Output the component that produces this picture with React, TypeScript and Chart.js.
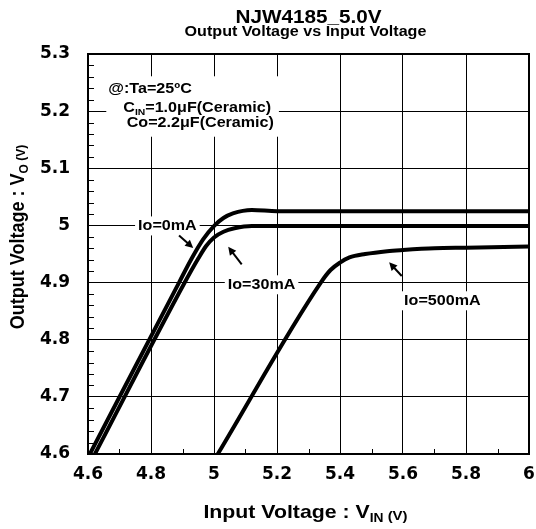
import React, { useEffect, useRef } from "react";
import { Chart, registerables } from "chart.js";

Chart.register(...registerables);

// ---- data ----
const xTicks = [4.6, 4.8, 5, 5.2, 5.4, 5.6, 5.8, 6];
const yTicks = [4.6, 4.7, 4.8, 4.9, 5, 5.1, 5.2, 5.3];

const io0X = [4.606, 4.889, 4.93, 4.966, 5.002, 5.03, 5.06, 5.12, 5.2, 6.0];
const io0Y = [4.6, 4.9, 4.943, 4.976, 5.0, 5.013, 5.021, 5.027, 5.025, 5.025];

const io30X = [4.622, 4.907, 4.95, 4.975, 5.0, 5.03, 5.065, 5.12, 5.2, 6.0];
const io30Y = [4.6, 4.9, 4.942, 4.964, 4.979, 4.989, 4.995, 4.999, 4.999, 4.999];

const io500X = [5.012, 5.339, 5.37, 5.4, 5.43, 5.48, 5.55, 5.6, 5.7, 5.8, 6.0];
const io500Y = [4.6, 4.9, 4.922, 4.935, 4.944, 4.95, 4.955, 4.957, 4.96, 4.961, 4.963];

// annotation texts / anchors (data units)
const loadLabels = ["Io=0mA", "Io=30mA", "Io=500mA"];
const loadLabelX = [4.852, 5.151, 5.725];
const loadLabelY = [5.0, 4.897, 4.869];
const arrowFromX = [4.889, 5.088, 5.596];
const arrowFromY = [4.9825, 4.932, 4.9115];
const arrowToX = [4.934, 5.045, 5.556];
const arrowToY = [4.9605, 4.9625, 4.9355];

const condX = [4.6644, 4.712, 4.7229];
const condY = [5.24, 5.2078, 5.1815];

const titleText = "NJW4185_5.0V";
const subtitleText = "Output Voltage vs Input Voltage";

const FONT = '"Liberation Sans", Arial, Helvetica, sans-serif';
const TICK_FONT = '"DejaVu Sans", "Liberation Sans", sans-serif';
const SX = 1.15;

type Run = { t: string; size: number; dy?: number };

function runsWidth(ctx: CanvasRenderingContext2D, runs: Run[], sx: number) {
  let w = 0;
  for (const r of runs) {
    ctx.font = `bold ${r.size}px ${FONT}`;
    w += ctx.measureText(r.t).width * sx;
  }
  return w;
}

function drawRuns(
  ctx: CanvasRenderingContext2D,
  runs: Run[],
  x: number,
  baseline: number,
  align: "left" | "center" | "right",
  sx: number
) {
  const w = runsWidth(ctx, runs, sx);
  let cx = align === "center" ? x - w / 2 : align === "right" ? x - w : x;
  const start = cx;
  for (const r of runs) {
    ctx.save();
    ctx.font = `bold ${r.size}px ${FONT}`;
    ctx.textAlign = "left";
    ctx.textBaseline = "alphabetic";
    ctx.fillStyle = "#000";
    const mw = ctx.measureText(r.t).width;
    ctx.translate(cx, baseline + (r.dy || 0));
    ctx.scale(sx, 1);
    ctx.fillText(r.t, 0, 0);
    ctx.restore();
    cx += mw * sx;
  }
  return { left: start, right: start + w };
}

function arrow(ctx: CanvasRenderingContext2D, x1: number, y1: number, x2: number, y2: number) {
  const ang = Math.atan2(y2 - y1, x2 - x1);
  const hl = 8;
  const hw = 4;
  ctx.save();
  ctx.strokeStyle = "#000";
  ctx.fillStyle = "#000";
  ctx.lineWidth = 2;
  ctx.beginPath();
  ctx.moveTo(x1, y1);
  ctx.lineTo(x2 - Math.cos(ang) * hl * 0.8, y2 - Math.sin(ang) * hl * 0.8);
  ctx.stroke();
  ctx.beginPath();
  ctx.moveTo(x2, y2);
  ctx.lineTo(x2 - Math.cos(ang) * hl - Math.sin(ang) * hw, y2 - Math.sin(ang) * hl + Math.cos(ang) * hw);
  ctx.lineTo(x2 - Math.cos(ang) * hl + Math.sin(ang) * hw, y2 - Math.sin(ang) * hl - Math.cos(ang) * hw);
  ctx.closePath();
  ctx.fill();
  ctx.restore();
}

const annotPlugin = {
  id: "annot",
  beforeDatasetsDraw(chart: any) {
    const ctx: CanvasRenderingContext2D = chart.ctx;
    const xs = chart.scales.x;
    const ys = chart.scales.y;
    const area = chart.chartArea;

    // minor ticks
    ctx.save();
    ctx.strokeStyle = "#000";
    ctx.lineWidth = 1;
    for (let i = 0; i <= 35; i++) {
      if (i % 5 === 0) continue;
      const v = 4.6 + i * 0.02;
      const py = Math.round(ys.getPixelForValue(v)) + 0.5;
      ctx.beginPath();
      ctx.moveTo(area.left, py);
      ctx.lineTo(area.left + 6, py);
      ctx.stroke();
    }
    for (let i = 0; i < xTicks.length - 1; i++) {
      const v = (xTicks[i] + xTicks[i + 1]) / 2;
      const px = Math.round(xs.getPixelForValue(v)) + 0.5;
      ctx.beginPath();
      ctx.moveTo(px, area.bottom);
      ctx.lineTo(px, area.bottom - 5);
      ctx.stroke();
    }
    ctx.restore();

    // condition block
    const cond: Run[][] = [
      [{ t: "@:Ta=25ºC", size: 14 }],
      [
        { t: "C", size: 14 },
        { t: "IN", size: 9, dy: 3 },
        { t: "=1.0μF(Ceramic)", size: 14 },
      ],
      [{ t: "Co=2.2μF(Ceramic)", size: 14 }],
    ];
    let minL = Infinity;
    let maxR = -Infinity;
    const cy = condY.map((v) => ys.getPixelForValue(v));
    cond.forEach((runs, i) => {
      const l = xs.getPixelForValue(condX[i]);
      const w = runsWidth(ctx, runs, SX);
      minL = Math.min(minL, l);
      maxR = Math.max(maxR, l + w);
    });
    ctx.fillStyle = "#fff";
    ctx.fillRect(minL - 2, cy[0] - 12, maxR - minL + 7, cy[2] - cy[0] + 27);
    cond.forEach((runs, i) => {
      drawRuns(ctx, runs, xs.getPixelForValue(condX[i]), cy[i] + 0.358 * 14, "left", SX);
    });

    // load labels
    loadLabels.forEach((t, i) => {
      const px = xs.getPixelForValue(loadLabelX[i]);
      const py = ys.getPixelForValue(loadLabelY[i]);
      const runs = [{ t, size: 14 }];
      const w = runsWidth(ctx, runs, SX);
      ctx.fillStyle = "#fff";
      ctx.fillRect(px - w / 2 - 3, py - 9, w + 6, 19);
      drawRuns(ctx, runs, px, py + 0.358 * 14, "center", SX);
    });
  },
  afterDatasetsDraw(chart: any) {
    const ctx: CanvasRenderingContext2D = chart.ctx;
    const xs = chart.scales.x;
    const ys = chart.scales.y;
    const area = chart.chartArea;

    loadLabels.forEach((_, i) => {
      arrow(
        ctx,
        xs.getPixelForValue(arrowFromX[i]),
        ys.getPixelForValue(arrowFromY[i]),
        xs.getPixelForValue(arrowToX[i]),
        ys.getPixelForValue(arrowToY[i])
      );
    });

    // frame
    ctx.save();
    ctx.strokeStyle = "#000";
    ctx.lineWidth = 2;
    ctx.strokeRect(area.left, area.top, area.right - area.left, area.bottom - area.top);
    ctx.restore();
  },
  afterDraw(chart: any) {
    const ctx: CanvasRenderingContext2D = chart.ctx;
    const area = chart.chartArea;
    const cx = (area.left + area.right) / 2;

    drawRuns(ctx, [{ t: titleText, size: 18 }], cx, 17 + 0.358 * 18, "center", SX);
    drawRuns(ctx, [{ t: subtitleText, size: 14 }], cx - 3, 31 + 0.358 * 14, "center", SX);

    // x axis title
    drawRuns(
      ctx,
      [
        { t: "Input Voltage : V", size: 18.5 },
        { t: "IN", size: 12, dy: 4 },
        { t: " (V)", size: 13, dy: 2 },
      ],
      cx - 3,
      511 + 0.358 * 18.5,
      "center",
      SX
    );

    // y axis title (rotated)
    ctx.save();
    ctx.translate(24, 237);
    ctx.rotate(-Math.PI / 2);
    ctx.scale(1, 1.1);
    drawRuns(
      ctx,
      [
        { t: "Output Voltage : V", size: 18 },
        { t: "O", size: 12, dy: 4 },
        { t: " (V)", size: 12, dy: 1 },
      ],
      0,
      0,
      "center",
      1
    );
    ctx.restore();
  },
};

const fmt = (v: any) => String(Number(Number(v).toFixed(1)));

export default function App() {
  const ref = useRef<HTMLCanvasElement | null>(null);
  useEffect(() => {
    document.body.style.margin = "0";
    const canvas = ref.current;
    if (!canvas) return;
    const tickFont = { family: TICK_FONT, size: 17, weight: "bold" as const };
    const ds = (xs: number[], ysv: number[], label: string) => ({
      label,
      data: xs.map((x, i) => ({ x, y: ysv[i] })),
      borderColor: "#000",
      borderWidth: 4,
      pointRadius: 0,
      fill: false,
      cubicInterpolationMode: "monotone" as const,
    });
    const chart = new Chart(canvas, {
      type: "line",
      data: {
        datasets: [
          ds(io0X, io0Y, "Io=0mA"),
          ds(io30X, io30Y, "Io=30mA"),
          ds(io500X, io500Y, "Io=500mA"),
        ],
      },
      options: {
        animation: false,
        responsive: false,
        maintainAspectRatio: false,
        devicePixelRatio: 1,
        layout: { padding: { top: 54, right: 7, left: 0, bottom: 0 } },
        plugins: {
          legend: { display: false },
          tooltip: { enabled: false },
          title: { display: false },
        },
        scales: {
          x: {
            type: "linear",
            min: 4.6,
            max: 6,
            afterBuildTicks: (s: any) => {
              s.ticks = xTicks.map((v) => ({ value: v }));
            },
            afterFit: (s: any) => {
              s.height = 75;
              s.paddingLeft = 0;
              s.paddingRight = 0;
            },
            grid: { color: "#000", lineWidth: 1, drawTicks: false },
            border: { color: "#000", width: 2 },
            ticks: {
              font: tickFont,
              color: "#000",
              padding: 10,
              maxRotation: 0,
              autoSkip: false,
              callback: (v: any) => fmt(v),
            },
          },
          y: {
            type: "linear",
            min: 4.6,
            max: 5.3,
            afterBuildTicks: (s: any) => {
              s.ticks = yTicks.map((v) => ({ value: v }));
            },
            afterFit: (s: any) => {
              s.width = 88;
              s.paddingTop = 0;
              s.paddingBottom = 0;
            },
            grid: { color: "#000", lineWidth: 1, drawTicks: false },
            border: { color: "#000", width: 2 },
            ticks: {
              font: tickFont,
              color: "#000",
              padding: 18,
              autoSkip: false,
              callback: (v: any) => fmt(v),
            },
          },
        },
      },
      plugins: [annotPlugin],
    });
    return () => chart.destroy();
  }, []);
  return (
    <div style={{ position: "fixed", left: 0, top: 0, width: 536, height: 529, background: "#fff" }}>
      <canvas ref={ref} width={536} height={529} style={{ display: "block", width: 536, height: 529 }} />
    </div>
  );
}
